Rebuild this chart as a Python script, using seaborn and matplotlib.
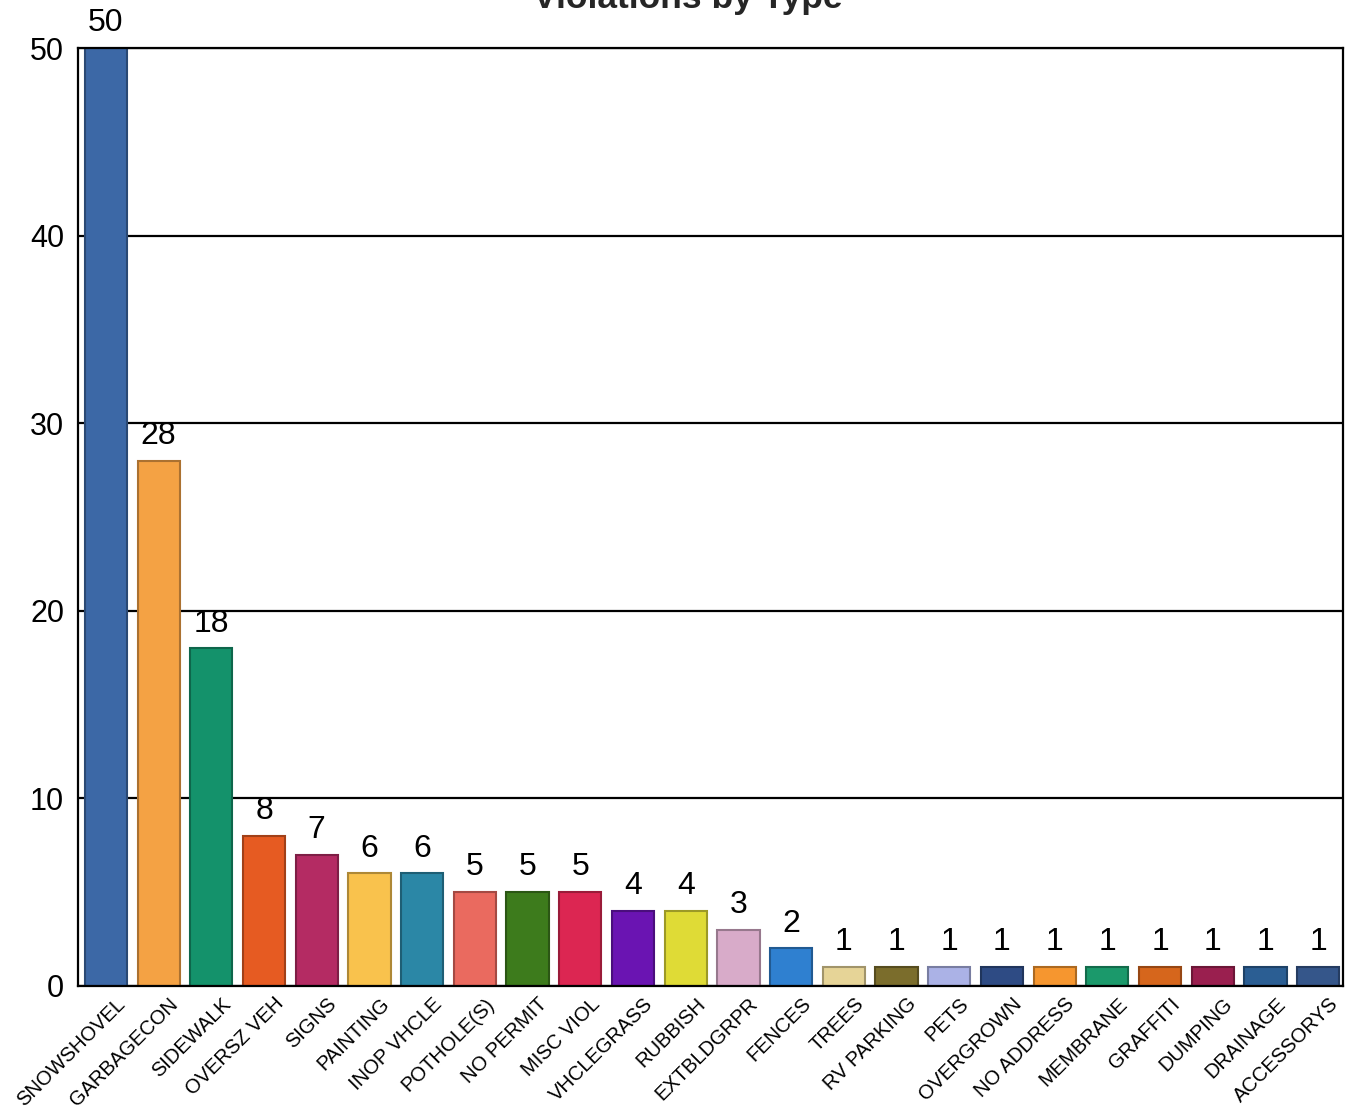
import matplotlib
matplotlib.use("Agg")
import matplotlib.pyplot as plt
import matplotlib.transforms as mtransforms
import seaborn as sns
import pandas as pd
import matplotlib.colors as mcolors

categories = ["SNOWSHOVEL", "GARBAGECON", "SIDEWALK", "OVERSZ VEH", "SIGNS",
              "PAINTING", "INOP VHCLE", "POTHOLE(S)", "NO PERMIT", "MISC VIOL",
              "VHCLEGRASS", "RUBBISH", "EXTBLDGRPR", "FENCES", "TREES",
              "RV PARKING", "PETS", "OVERGROWN", "NO ADDRESS", "MEMBRANE",
              "GRAFFITI", "DUMPING", "DRAINAGE", "ACCESSORYS"]
counts = [50, 28, 18, 8, 7, 6, 6, 5, 5, 5, 4, 4, 3, 2, 1, 1, 1, 1, 1, 1, 1, 1, 1, 1]
bar_colors = ["#3c68a6", "#f4a244", "#14926b", "#e65b22", "#b42b63",
              "#f9c24d", "#2b87a6", "#ea6a5f", "#3d7b1c", "#dc2652",
              "#6a14b2", "#dfdb36", "#d8abc9", "#2f80d0", "#e6d497",
              "#7b6d2c", "#abb2e6", "#2e4b84", "#f6962f", "#1b996b",
              "#d6661c", "#9a1f4f", "#2b5e93", "#35568a"]
y_ticks = [0, 10, 20, 30, 40, 50]

df = pd.DataFrame({"type": categories, "count": counts})

sns.set_style("white")
plt.rcParams["font.family"] = ["Liberation Sans", "DejaVu Sans"]

fig = plt.figure(figsize=(13.51, 11.17), dpi=100)
ax = fig.add_axes([0.0577, 0.1173, 0.9364, 0.8397])

sns.barplot(data=df, x="type", y="count", hue="type", palette=bar_colors,
            order=categories, hue_order=categories, legend=False,
            width=0.8, ax=ax, zorder=3, saturation=1)

# darker outline on every bar
for patch, col in zip(ax.patches, bar_colors):
    r, g, b = mcolors.to_rgb(col)
    patch.set_edgecolor((r * 0.7, g * 0.7, b * 0.7))
    patch.set_linewidth(1.5)

for cont in ax.containers:
    ax.bar_label(cont, padding=7, fontsize=23, color="black")

ax.set_xlim(-0.53, len(categories) - 0.53)
ax.set_ylim(0, 50)
ax.set_yticks(y_ticks)
ax.yaxis.grid(True, color="black", linewidth=1.6, zorder=1)
ax.set_axisbelow(True)

ax.set_xlabel("")
ax.set_ylabel("")
ax.tick_params(axis="y", labelsize=22, length=0, pad=10, colors="black")
ax.set_xticks(range(len(categories)))
ax.set_xticklabels(categories, rotation=45, ha="right", rotation_mode="anchor",
                   fontsize=14.5)
ax.tick_params(axis="x", length=0, pad=6, colors="black")
# nudge rotated labels so their ends sit just right of each tick
shift = mtransforms.ScaledTranslation(10 / 100, 0, fig.dpi_scale_trans)
for lbl in ax.get_xticklabels():
    lbl.set_transform(lbl.get_transform() + shift)
ax.set_xticks([i + 0.5 for i in range(len(categories) - 1)], minor=True)
ax.tick_params(axis="x", which="minor", direction="in", length=4, width=2.5,
               color="#222222")

for side in ["left", "right", "top", "bottom"]:
    ax.spines[side].set_visible(True)
    ax.spines[side].set_color("black")
    ax.spines[side].set_linewidth(1.6)
    ax.spines[side].set_zorder(4)

fig.text(0.509, 0.9928, "Violations by Type", ha="center", va="baseline",
         fontsize=25.5, fontweight="bold")

fig.savefig("out.png", dpi=100)
